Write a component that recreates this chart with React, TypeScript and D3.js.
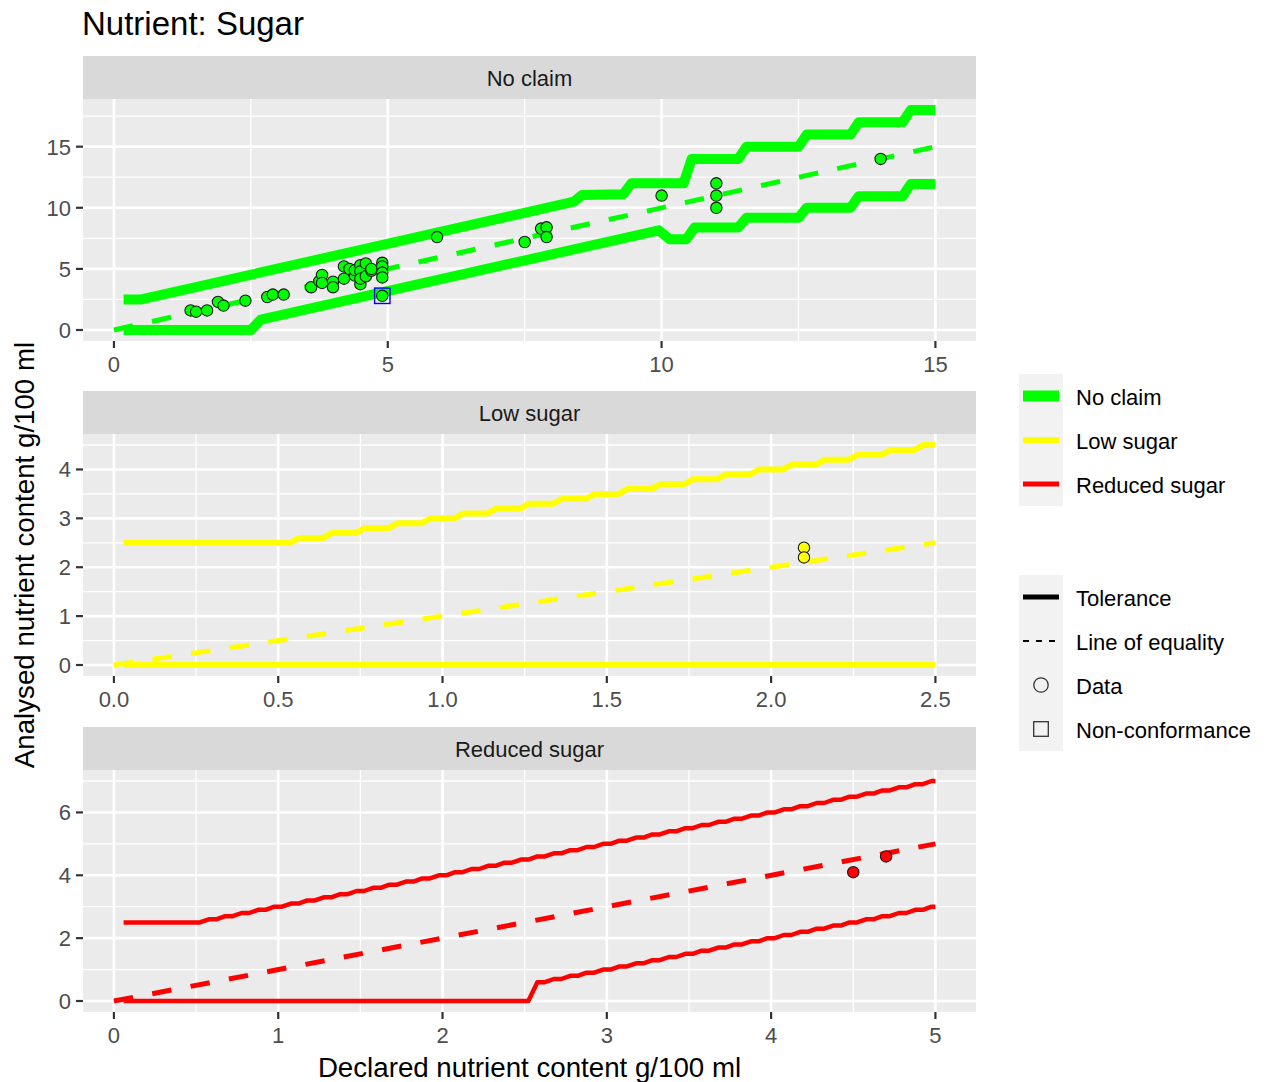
import React from 'react';
import * as d3 from 'd3';

const FONT = '"Liberation Sans", Arial, "DejaVu Sans", sans-serif';

// ---------- categories ----------
const panelNames = ['No claim', 'Low sugar', 'Reduced sugar'];
const panelColors = ['#00FF00', '#FFFF00', '#FF0000'];

// ---------- No claim tolerance lines (vertices) ----------
const noClaimUpperX = [0.176, 0.5, 8.4, 8.55, 9.3, 9.45, 10.4, 10.55, 11.4, 11.55, 12.5, 12.65, 13.45, 13.6, 14.4, 14.55, 15];
const noClaimUpperY = [2.5, 2.5, 10.5, 11.05, 11.1, 12, 12, 14, 14, 15, 15, 16, 16, 17, 17, 18, 18];
const noClaimLowerX = [0.176, 2.5, 2.68, 9.95, 10.15, 10.45, 10.6, 11.4, 11.55, 12.5, 12.65, 13.45, 13.6, 14.4, 14.55, 15];
const noClaimLowerY = [0, 0, 0.85, 8.15, 7.42, 7.42, 8.38, 8.38, 9.18, 9.18, 10.0, 10.0, 10.95, 10.95, 11.95, 11.95];

// ---------- Low sugar tolerance lines (step levels) ----------
const lowSugarUpperX = [0.0294, 0.5, 0.6, 0.7, 0.8, 0.9, 1.0, 1.1, 1.2, 1.3, 1.4, 1.5, 1.6, 1.7, 1.8, 1.9, 2.0, 2.1, 2.2, 2.3, 2.4, 2.5];
const lowSugarUpperY = [2.5, 2.5, 2.6, 2.7, 2.8, 2.9, 3.0, 3.1, 3.2, 3.3, 3.4, 3.5, 3.6, 3.7, 3.8, 3.9, 4.0, 4.1, 4.2, 4.3, 4.4, 4.5];
const lowSugarLowerX = [0.0294, 2.5];
const lowSugarLowerY = [0, 0];

// ---------- Reduced sugar tolerance lines (step levels) ----------
const reducedUpperX = [0.0588, 0.5, 0.6, 0.7, 0.8, 0.9, 1.0, 1.1, 1.2, 1.3, 1.4, 1.5, 1.6, 1.7, 1.8, 1.9, 2.0, 2.1, 2.2, 2.3, 2.4, 2.5, 2.6, 2.7, 2.8, 2.9, 3.0, 3.1, 3.2, 3.3, 3.4, 3.5, 3.6, 3.7, 3.8, 3.9, 4.0, 4.1, 4.2, 4.3, 4.4, 4.5, 4.6, 4.7, 4.8, 4.9, 5.0];
const reducedUpperY = [2.5, 2.5, 2.6, 2.7, 2.8, 2.9, 3.0, 3.1, 3.2, 3.3, 3.4, 3.5, 3.6, 3.7, 3.8, 3.9, 4.0, 4.1, 4.2, 4.3, 4.4, 4.5, 4.6, 4.7, 4.8, 4.9, 5.0, 5.1, 5.2, 5.3, 5.4, 5.5, 5.6, 5.7, 5.8, 5.9, 6.0, 6.1, 6.2, 6.3, 6.4, 6.5, 6.6, 6.7, 6.8, 6.9, 7.0];
const reducedLowerX = [0.0588, 2.5, 2.6, 2.7, 2.8, 2.9, 3.0, 3.1, 3.2, 3.3, 3.4, 3.5, 3.6, 3.7, 3.8, 3.9, 4.0, 4.1, 4.2, 4.3, 4.4, 4.5, 4.6, 4.7, 4.8, 4.9, 5.0];
const reducedLowerY = [0, 0, 0.6, 0.7, 0.8, 0.9, 1.0, 1.1, 1.2, 1.3, 1.4, 1.5, 1.6, 1.7, 1.8, 1.9, 2.0, 2.1, 2.2, 2.3, 2.4, 2.5, 2.6, 2.7, 2.8, 2.9, 3.0];

// ---------- Line of equality ----------
const noClaimEqX = [0, 15];
const lowSugarEqX = [0, 2.5];
const reducedEqX = [0, 5];

// ---------- Data points ----------
const noClaimPointsX = [1.4, 1.5, 1.7, 1.9, 2.0, 2.4, 2.8, 2.9, 3.1, 3.6, 3.75, 3.8, 3.8, 4.0, 4.0, 4.2, 4.2, 4.3, 4.4, 4.4, 4.5, 4.5, 4.5, 4.5, 4.6, 4.6, 4.7, 4.7, 4.9, 4.9, 4.9, 4.9, 4.9, 5.9, 7.5, 7.8, 7.9, 7.9, 10, 11, 11, 11, 14];
const noClaimPointsY = [1.6, 1.5, 1.6, 2.3, 2.0, 2.4, 2.7, 2.9, 2.9, 3.5, 4.0, 4.5, 3.85, 3.95, 3.5, 4.2, 5.2, 5.0, 4.45, 4.9, 5.3, 4.8, 3.75, 4.2, 5.45, 4.4, 4.85, 5.0, 5.5, 5.2, 4.7, 4.3, 2.8, 7.6, 7.2, 8.3, 8.4, 7.6, 11, 12, 11, 10, 14];
const lowSugarPointsX = [2.1, 2.1];
const lowSugarPointsY = [2.4, 2.2];
const reducedPointsX = [4.5, 4.7];
const reducedPointsY = [4.1, 4.6];

// Non-conformance
const noClaimNcX = [4.9];
const noClaimNcY = [2.8];

// ---------- Ticks ----------
const noClaimXTicks = [0, 5, 10, 15];
const noClaimXLabels = ['0', '5', '10', '15'];
const noClaimYTicks = [0, 5, 10, 15];
const noClaimYLabels = ['0', '5', '10', '15'];
const lowSugarXTicks = [0, 0.5, 1, 1.5, 2, 2.5];
const lowSugarXLabels = ['0.0', '0.5', '1.0', '1.5', '2.0', '2.5'];
const lowSugarYTicks = [0, 1, 2, 3, 4];
const lowSugarYLabels = ['0', '1', '2', '3', '4'];
const reducedXTicks = [0, 1, 2, 3, 4, 5];
const reducedXLabels = ['0', '1', '2', '3', '4', '5'];
const reducedYTicks = [0, 2, 4, 6];
const reducedYLabels = ['0', '2', '4', '6'];

const legendColorLabels = ['No claim', 'Low sugar', 'Reduced sugar'];
const legendTypeLabels = ['Tolerance', 'Line of equality', 'Data', 'Non-conformance'];

// ---------- layout ----------
const PANEL_L = 83;
const PANEL_R = 976;
const boxes = [
  { stripTop: 56, top: 99, bottom: 341 },
  { stripTop: 391, top: 434, bottom: 676 },
  { stripTop: 727, top: 770, bottom: 1012 },
];
const tolWidths = [10, 6, 4.5];
const keyWidths = [11, 6, 5];

const specs = [
  {
    name: panelNames[0], color: panelColors[0], stepped: false,
    upperX: noClaimUpperX, upperY: noClaimUpperY, lowerX: noClaimLowerX, lowerY: noClaimLowerY,
    eqX: noClaimEqX, ptsX: noClaimPointsX, ptsY: noClaimPointsY, ncX: noClaimNcX, ncY: noClaimNcY,
    xTicks: noClaimXTicks, xLabels: noClaimXLabels, yTicks: noClaimYTicks, yLabels: noClaimYLabels,
  },
  {
    name: panelNames[1], color: panelColors[1], stepped: true,
    upperX: lowSugarUpperX, upperY: lowSugarUpperY, lowerX: lowSugarLowerX, lowerY: lowSugarLowerY,
    eqX: lowSugarEqX, ptsX: lowSugarPointsX, ptsY: lowSugarPointsY, ncX: [] as number[], ncY: [] as number[],
    xTicks: lowSugarXTicks, xLabels: lowSugarXLabels, yTicks: lowSugarYTicks, yLabels: lowSugarYLabels,
  },
  {
    name: panelNames[2], color: panelColors[2], stepped: true,
    upperX: reducedUpperX, upperY: reducedUpperY, lowerX: reducedLowerX, lowerY: reducedLowerY,
    eqX: reducedEqX, ptsX: reducedPointsX, ptsY: reducedPointsY, ncX: [] as number[], ncY: [] as number[],
    xTicks: reducedXTicks, xLabels: reducedXLabels, yTicks: reducedYTicks, yLabels: reducedYLabels,
  },
];

function minorTicks(t: number[], dom: number[]) {
  const step = t[1] - t[0];
  const c = [t[0] - step / 2, ...t.map((v) => v + step / 2)];
  const lo = Math.min(dom[0], dom[1]);
  const hi = Math.max(dom[0], dom[1]);
  return c.filter((v) => v > lo && v < hi);
}

function steppedPath(pts: [number, number][], riser: number) {
  const out: [number, number][] = [pts[0]];
  for (let i = 1; i < pts.length; i++) {
    const [xa, ya] = pts[i - 1];
    const [xb, yb] = pts[i];
    if (ya !== yb) {
      const m = (xa + xb) / 2;
      out.push([m - riser / 2, ya], [m + riser / 2, yb]);
    }
  }
  out.push(pts[pts.length - 1]);
  return d3.line()(out) || '';
}

function Panel({ spec, box, idx }: { spec: any; box: any; idx: number }) {
  const allX = [...spec.upperX, ...spec.lowerX, ...spec.ptsX];
  const allY = [...spec.upperY, ...spec.lowerY, ...spec.ptsY];
  const [xa, xb] = d3.extent(allX) as [number, number];
  const [ya, yb] = d3.extent(allY) as [number, number];
  const x = d3.scaleLinear().domain([xa - 0.05 * (xb - xa), xb + 0.05 * (xb - xa)]).range([PANEL_L, PANEL_R]);
  const y = d3.scaleLinear().domain([ya - 0.05 * (yb - ya), yb + 0.05 * (yb - ya)]).range([box.bottom, box.top]);
  const minX = minorTicks(spec.xTicks, x.domain());
  const minY = minorTicks(spec.yTicks, y.domain());

  const toPts = (xs: number[], ys: number[]) => xs.map((v, i) => [x(v), y(ys[i])] as [number, number]);
  const lineGen = d3.line();
  const pathFor = (xs: number[], ys: number[]) =>
    spec.stepped ? steppedPath(toPts(xs, ys), 9) : lineGen(toPts(xs, ys)) || '';

  const clipId = `clip-${idx}`;
  return (
    <g>
      <defs>
        <clipPath id={clipId}>
          <rect x={PANEL_L} y={box.top} width={PANEL_R - PANEL_L} height={box.bottom - box.top} />
        </clipPath>
      </defs>
      {/* strip */}
      <rect x={PANEL_L} y={box.stripTop} width={PANEL_R - PANEL_L} height={box.top - box.stripTop} fill="#D9D9D9" />
      <text x={(PANEL_L + PANEL_R) / 2} y={(box.stripTop + box.top) / 2 + 8} textAnchor="middle" fontSize={22} fill="#1A1A1A">
        {spec.name}
      </text>
      {/* panel background */}
      <rect x={PANEL_L} y={box.top} width={PANEL_R - PANEL_L} height={box.bottom - box.top} fill="#EBEBEB" />
      {minX.map((v: number) => (
        <line key={'mx' + v} x1={x(v)} x2={x(v)} y1={box.top} y2={box.bottom} stroke="#fff" strokeWidth={1.3} />
      ))}
      {minY.map((v: number) => (
        <line key={'my' + v} y1={y(v)} y2={y(v)} x1={PANEL_L} x2={PANEL_R} stroke="#fff" strokeWidth={1.3} />
      ))}
      {spec.xTicks.map((v: number) => (
        <line key={'gx' + v} x1={x(v)} x2={x(v)} y1={box.top} y2={box.bottom} stroke="#fff" strokeWidth={2.6} />
      ))}
      {spec.yTicks.map((v: number) => (
        <line key={'gy' + v} y1={y(v)} y2={y(v)} x1={PANEL_L} x2={PANEL_R} stroke="#fff" strokeWidth={2.6} />
      ))}
      <g clipPath={`url(#${clipId})`}>
        <path d={pathFor(spec.upperX, spec.upperY)} fill="none" stroke={spec.color} strokeWidth={tolWidths[idx]} strokeLinejoin="round" strokeLinecap="butt" />
        <path d={pathFor(spec.lowerX, spec.lowerY)} fill="none" stroke={spec.color} strokeWidth={tolWidths[idx]} strokeLinejoin="round" strokeLinecap="butt" />
        <path d={lineGen(toPts(spec.eqX, spec.eqX)) || ''} fill="none" stroke={spec.color} strokeWidth={5} strokeDasharray="19.5 19.5" strokeLinecap="butt" />
        {spec.ptsX.map((v: number, i: number) => (
          <circle key={'p' + i} cx={x(v)} cy={y(spec.ptsY[i])} r={5.7} fill={spec.color} stroke="#1a1a1a" strokeWidth={1.1} />
        ))}
        {spec.ncX.map((v: number, i: number) => (
          <rect key={'nc' + i} x={x(v) - 7.7} y={y(spec.ncY[i]) - 7.7} width={15.4} height={15.4} fill="none" stroke="#0000FF" strokeWidth={1.4} />
        ))}
      </g>
      {/* axes */}
      {spec.xTicks.map((v: number, i: number) => (
        <g key={'xt' + v}>
          <line x1={x(v)} x2={x(v)} y1={box.bottom} y2={box.bottom + 7} stroke="#333333" strokeWidth={2.2} />
          <text x={x(v)} y={box.bottom + 31} textAnchor="middle" fontSize={22} fill="#4D4D4D">
            {spec.xLabels[i]}
          </text>
        </g>
      ))}
      {spec.yTicks.map((v: number, i: number) => (
        <g key={'yt' + v}>
          <line x1={PANEL_L - 7} x2={PANEL_L} y1={y(v)} y2={y(v)} stroke="#333333" strokeWidth={2.2} />
          <text x={PANEL_L - 12} y={y(v) + 8} textAnchor="end" fontSize={22} fill="#4D4D4D">
            {spec.yLabels[i]}
          </text>
        </g>
      ))}
    </g>
  );
}

export default function App() {
  const W = 1264;
  const H = 1082;
  const keyX = 1019;
  const keyW = 44;
  const leg1Top = 374;
  const leg2Top = 575;
  const keyH = 44;
  return (
    <div style={{ position: 'absolute', left: 0, top: 0 }}>
      <svg width={W} height={H} style={{ display: 'block', background: '#ffffff' }} fontFamily={FONT}>
        <rect x={0} y={0} width={W} height={H} fill="#ffffff" />
        <text x={82} y={35} fontSize={33} fill="#000">Nutrient: Sugar</text>
        {specs.map((s, i) => (
          <Panel key={i} spec={s} box={boxes[i]} idx={i} />
        ))}
        <text x={(PANEL_L + PANEL_R) / 2} y={1077} textAnchor="middle" fontSize={27.7} fill="#000">
          Declared nutrient content g/100 ml
        </text>
        <text transform="translate(34,555) rotate(-90)" textAnchor="middle" fontSize={27.7} fill="#000">
          Analysed nutrient content g/100 ml
        </text>

        {/* colour legend */}
        <rect x={keyX} y={leg1Top} width={keyW} height={keyH * legendColorLabels.length} fill="#F2F2F2" />
        {legendColorLabels.map((lab, i) => {
          const cy = leg1Top + keyH * i + keyH / 2;
          return (
            <g key={lab}>
              <line x1={keyX + 4} x2={keyX + keyW - 4} y1={cy} y2={cy} stroke={panelColors[i]} strokeWidth={keyWidths[i]} />
              <text x={1076} y={cy + 9} fontSize={22} fill="#000">{lab}</text>
            </g>
          );
        })}

        {/* type legend */}
        <rect x={keyX} y={leg2Top} width={keyW} height={keyH * legendTypeLabels.length} fill="#F2F2F2" />
        {legendTypeLabels.map((lab, i) => {
          const cy = leg2Top + keyH * i + keyH / 2;
          const cx = keyX + keyW / 2;
          let sym: React.ReactNode = null;
          if (i === 0) sym = <line x1={keyX + 4} x2={keyX + keyW - 4} y1={cy} y2={cy} stroke="#000" strokeWidth={5} />;
          if (i === 1) sym = <line x1={keyX + 4} x2={keyX + keyW - 4} y1={cy} y2={cy} stroke="#000" strokeWidth={2} strokeDasharray="6 7" />;
          if (i === 2) sym = <circle cx={cx} cy={cy} r={7.2} fill="none" stroke="#333" strokeWidth={1.3} />;
          if (i === 3) sym = <rect x={cx - 7.3} y={cy - 7.3} width={14.6} height={14.6} fill="none" stroke="#333" strokeWidth={1.3} />;
          return (
            <g key={lab}>
              {sym}
              <text x={1076} y={cy + 9} fontSize={22} fill="#000">{lab}</text>
            </g>
          );
        })}
      </svg>
    </div>
  );
}
